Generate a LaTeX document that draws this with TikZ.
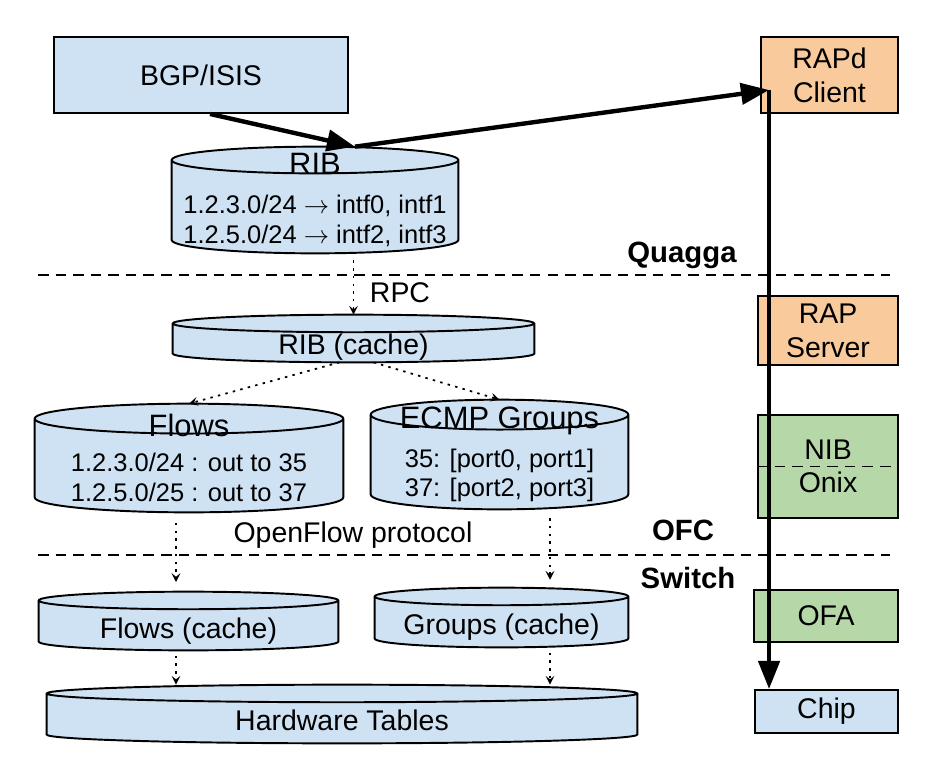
\documentclass[tikz,border=0pt]{standalone}
\usepackage{fontspec}
\setmainfont{Liberation Sans}
\usetikzlibrary{arrows.meta,calc,backgrounds}

\definecolor{boxblue}{HTML}{CFE2F3}
\definecolor{boxorange}{HTML}{F9CB9C}
\definecolor{boxgreen}{HTML}{B6D7A8}
\newcommand{\headfont}{\fontsize{17.6}{20}\selectfont}
\newcommand{\entryfont}{\fontsize{14.5}{16.8}\selectfont}
\newcommand{\sunk}[2]{\raisebox{-#1}[\height][\depth]{#2}}

\begin{document}
\begin{tikzpicture}[x=0.02cm, y=-0.02cm,
    font=\fontsize{16.2}{19.3}\selectfont,
    box/.style={draw, rectangle, line width=1.1pt, align=center, inner sep=0pt},
    db/.style={rectangle, align=center, inner sep=0pt},
    tall/.style={font=\entryfont},
    dbline/.style={draw, line width=1.1pt, fill=boxblue},
    sep/.style={line width=1.1pt, dash pattern=on 6pt off 4pt},
    push/.style={line width=2.5pt, -{Triangle[length=16pt,width=12pt]}},
    feed/.style={line width=1pt, dash pattern=on 1.4pt off 3pt,
                 -{Stealth[length=5pt,width=5pt,inset=2pt]}},
    layer/.style={font=\fontsize{16.7}{20}\selectfont\bfseries}]
  \useasboundingbox (0,0) rectangle (942,778);

  % routing stack
  \node (bgp) [box, fill=boxblue, minimum width=5.88cm, minimum height=1.52cm] at (201,75) {BGP/ISIS};
  \node (rib) [db, tall, minimum width=5.72cm, minimum height=2.12cm] at (315,200)
    {{\headfont RIB}\\[5.2pt]1.2.3.0/24 $\rightarrow$ intf0, intf1\\1.2.5.0/24 $\rightarrow$ intf2, intf3};
  \node (quagga) [layer] at (682,255) {Quagga};
  \draw[sep] (38,275) -- (890,275);
  \node (rpc) at (400,293) {RPC};
  \node (ribc) [db, minimum width=7.22cm, minimum height=0.94cm] at (353.5,338.5) {\sunk{5pt}{RIB (cache)}};

  % controller tables
  \node (flows) [db, tall, minimum width=6.16cm, minimum height=2.16cm] at (189,458)
    {{\headfont Flows}\\[3pt]1.2.3.0/24 : out to 35\\1.2.5.0/25 : out to 37};
  \node (ecmp) [db, tall, minimum width=5.14cm, minimum height=2.18cm] at (499.5,454.5)
    {{\headfont ECMP Groups}\\[5.2pt]35: [port0, port1]\\37: [port2, port3]};
  \node (ofc) [layer] at (683,530) {OFC};
  \node (ofproto) at (353,535) {OpenFlow protocol};
  \draw[sep] (38,555) -- (890,555);
  \node (switch) [layer] at (688,578) {Switch};

  % switch tables
  \node (flowsc) [db, minimum width=5.98cm, minimum height=1.16cm] at (188.5,621) {\sunk{5.7pt}{Flows (cache)}};
  \node (groupsc) [db, minimum width=5.06cm, minimum height=1.18cm] at (501.5,617.5) {\sunk{5.7pt}{Groups (cache)}};
  \node (hw) [db, minimum width=11.8cm, minimum height=1.16cm] at (342,714) {\sunk{3.4pt}{Hardware Tables}};

  % cylinders behind the tables
  \begin{scope}[on background layer]
    \foreach \db/\ry in {rib/7.6pt, ribc/5pt, flows/8.5pt, ecmp/8.5pt, flowsc/5pt, groupsc/5pt, hw/5pt}
      \draw[dbline] let \p1=(\db.north west), \p2=(\db.south east), \n1={(\x2-\x1)/2} in
        ({\x1},{\y1-\ry}) -- ({\x1},{\y2+\ry})
          arc[start angle=180, end angle=360, x radius=\n1, y radius=\ry]
        -- ({\x2},{\y1-\ry})
          arc[start angle=0, end angle=180, x radius=\n1, y radius=\ry] -- cycle
        ({\x1},{\y1-\ry}) arc[start angle=180, end angle=360, x radius=\n1, y radius=\ry];
  \end{scope}

  % right column
  \node (rapd) [box, fill=boxorange, minimum width=2.74cm, minimum height=1.52cm] at (829.5,75) {RAPd\\Client};
  \node (rapsrv) [box, fill=boxorange, minimum width=2.8cm, minimum height=1.38cm] at (828,330.5) {RAP\\Server};
  \node (nib) [box, fill=boxgreen, minimum width=2.8cm, minimum height=2.06cm] at (828,466.5) {NIB\\[-0.6pt]Onix};
  \draw[sep] (nib.west) -- (nib.east);
  \node (ofa) [box, fill=boxgreen, minimum width=2.88cm, minimum height=1.04cm] at (826,616) {OFA};
  \node (chip) [box, fill=boxblue, minimum width=2.86cm, minimum height=0.86cm] at (826.5,711.5) {Chip};

  % route push
  \coordinate (ribtop) at ($(rib.north)+(40,0)$);
  \coordinate (tap) at ($(rapd.west)+(9,15)$);
  \draw[push] ([xshift=0.18cm]bgp.south) -- (ribtop);
  \draw[push] (ribtop) -- (tap);
  \draw[push] (tap) -- (tap |- chip.north);

  % table updates
  \coordinate (fcol) at (176,0);
  \coordinate (gcol) at (550,0);
  \draw[feed, shorten <=4pt] (rib.south -| ribc.north) -- (ribc.north);
  \draw[feed] ([xshift=-0.28cm]ribc.south) -- (flows.north);
  \draw[feed] ([xshift=0.4cm]ribc.south) -- (ecmp.north);
  \draw[feed, shorten <=6pt, shorten >=5.5pt] (flows.south -| fcol) -- (flowsc.north -| fcol);
  \draw[feed, shorten <=5pt, shorten >=4.5pt] (ecmp.south -| gcol) -- (groupsc.north -| gcol);
  \draw[feed, shorten <=3pt] (flowsc.south -| fcol) -- (hw.north -| fcol);
  \draw[feed, shorten <=3pt] (groupsc.south -| gcol) -- (hw.north -| gcol);
\end{tikzpicture}
\end{document}
